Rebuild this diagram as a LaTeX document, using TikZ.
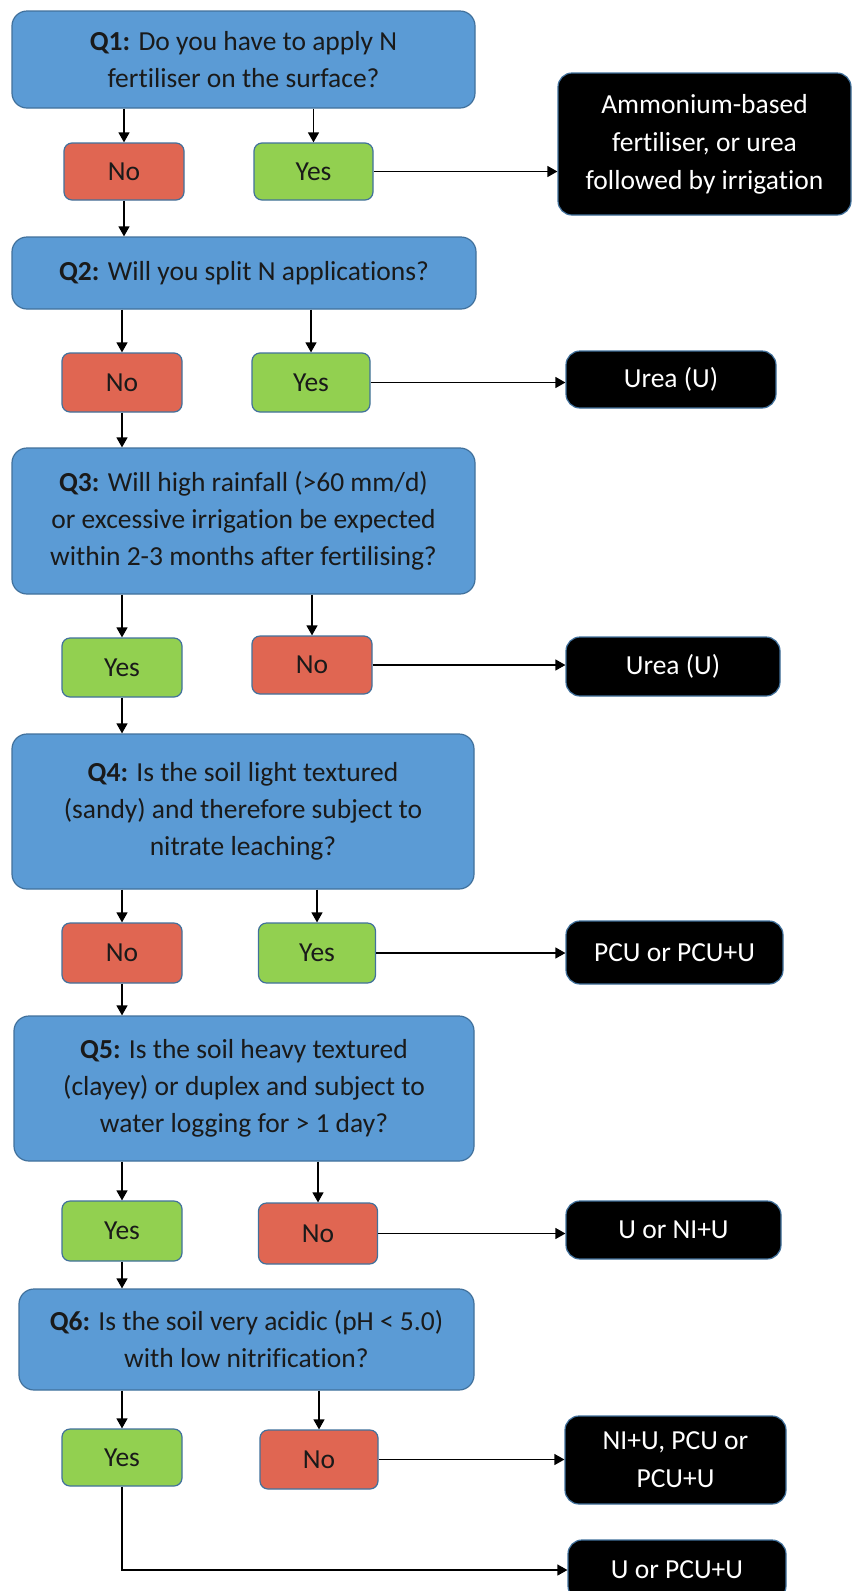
\documentclass[tikz,border=0pt]{standalone}
\usepackage{fontspec}
\setmainfont{Carlito}[Ligatures={NoCommon}]
\usetikzlibrary{arrows.meta}
\definecolor{qblue}{HTML}{5B9BD5}
\definecolor{bord}{HTML}{41719C}
\definecolor{nored}{HTML}{E06652}
\definecolor{yesgreen}{HTML}{92D050}
\definecolor{txt}{HTML}{1A1A1A}
\tikzset{
  base/.style={draw=bord, line width=1.2pt, inner sep=0pt, align=center,
    font=\fontsize{27.5}{37}\selectfont, text=txt},
  qbox/.style={base, fill=qblue, rounded corners=15pt},
  nobox/.style={base, fill=nored, rounded corners=8pt},
  yesbox/.style={base, fill=yesgreen, rounded corners=8pt},
  ansbox/.style={base, fill=black, text=white, rounded corners=14pt,
    font=\fontsize{27.5}{38}\selectfont},
  arr/.style={draw=black, line width=1.3pt, -{Triangle[length=10pt,width=11pt]}},
  wh/.style 2 args={minimum width=#1pt, minimum height=#2pt},
}
\begin{document}
\begin{tikzpicture}[x=1pt,y=-1pt]
\useasboundingbox (0,0) rectangle (853,1591);
\clip (0,0) rectangle (853,1591);
\fill[white] (0,0) rectangle (853,1591);
% Q1
\node[qbox, wh={463}{97}] (Q1) at (243.5,59.5) {\textbf{Q1:} Do you have to apply N\\fertiliser on the surface?};
\node[nobox, wh={120}{57}] (No1) at (124,171.5) {No};
\node[yesbox, wh={119}{57}] (Yes1) at (313.5,171.5) {Yes};
\node[ansbox, wh={293}{142}] (A1) at (704.5,144) {Ammonium-based\\fertiliser, or urea\\followed by irrigation};
% Q2
\node[qbox, wh={464}{72}] (Q2) at (244,273) {\textbf{Q2:} Will you split N applications?};
\node[nobox, wh={120}{59}] (No2) at (122,382.5) {No};
\node[yesbox, wh={118}{59}] (Yes2) at (311,382.5) {Yes};
\node[ansbox, wh={210}{57}] (U1) at (671,379.5) {Urea (U)};
% Q3
\node[qbox, wh={463}{146}] (Q3) at (243.5,521) {\textbf{Q3:} Will high rainfall (>60 mm/d)\\or excessive irrigation be expected\\within 2-3 months after fertilising?};
\node[yesbox, wh={120}{59}] (Yes3) at (122,667.5) {Yes};
\node[nobox, wh={120}{58}] (No3) at (312,665) {No};
\node[ansbox, wh={214}{59}] (U2) at (673,666.5) {Urea (U)};
% Q4
\node[qbox, wh={462}{155}] (Q4) at (243,811.5) {\textbf{Q4:} Is the soil light textured\\(sandy) and therefore subject to\\nitrate leaching?};
\node[nobox, wh={120}{60}] (No4) at (122,953) {No};
\node[yesbox, wh={117}{60}] (Yes4) at (317,953) {Yes};
\node[ansbox, wh={217}{63}] (P1) at (674.5,952.5) {PCU or PCU+U};
% Q5
\node[qbox, wh={460}{145}] (Q5) at (244,1088.5) {\textbf{Q5:} Is the soil heavy textured\\(clayey) or duplex and subject to\\water logging for > 1 day?};
\node[yesbox, wh={120}{60}] (Yes5) at (122,1231) {Yes};
\node[nobox, wh={119}{61}] (No5) at (318,1233.5) {No};
\node[ansbox, wh={215}{58}] (N1) at (673.5,1230) {U or NI+U};
% Q6
\node[qbox, wh={455}{101}] (Q6) at (246.5,1339.5) {\textbf{Q6:} Is the soil very acidic (pH < 5.0)\\with low nitrification?};
\node[yesbox, wh={120}{57}] (Yes6) at (122,1457.5) {Yes};
\node[nobox, wh={118}{59}] (No6) at (319,1459.5) {No};
\node[ansbox, wh={221}{88}] (N2) at (675.5,1460) {NI+U, PCU or\\PCU+U};
\node[ansbox, wh={218}{60}] (N3) at (677,1570) {U or PCU+U};
% arrows Q -> answers
\foreach \q/\a/\b in {Q1/No1/Yes1, Q2/No2/Yes2, Q3/Yes3/No3, Q4/No4/Yes4, Q5/Yes5/No5, Q6/Yes6/No6}{
  \draw[arr] (\a.north |- \q.south) -- (\a.north);
  \draw[arr] (\b.north |- \q.south) -- (\b.north);
}
% arrows down the chain
\draw[arr] (No1.south) -- (No1.south |- Q2.north);
\draw[arr] (No2.south) -- (No2.south |- Q3.north);
\draw[arr] (Yes3.south) -- (Yes3.south |- Q4.north);
\draw[arr] (No4.south) -- (No4.south |- Q5.north);
\draw[arr] (Yes5.south) -- (Yes5.south |- Q6.north);
% arrows to outcomes
\draw[arr] (Yes1.east) -- (Yes1.east -| A1.west);
\draw[arr] (Yes2.east) -- (Yes2.east -| U1.west);
\draw[arr] (No3.east) -- (No3.east -| U2.west);
\draw[arr] (Yes4.east) -- (Yes4.east -| P1.west);
\draw[arr] (No5.east) -- (No5.east -| N1.west);
\draw[arr] (No6.east) -- (No6.east -| N2.west);
\draw[arr] (Yes6.south) |- (N3.west);
\end{tikzpicture}
\end{document}
